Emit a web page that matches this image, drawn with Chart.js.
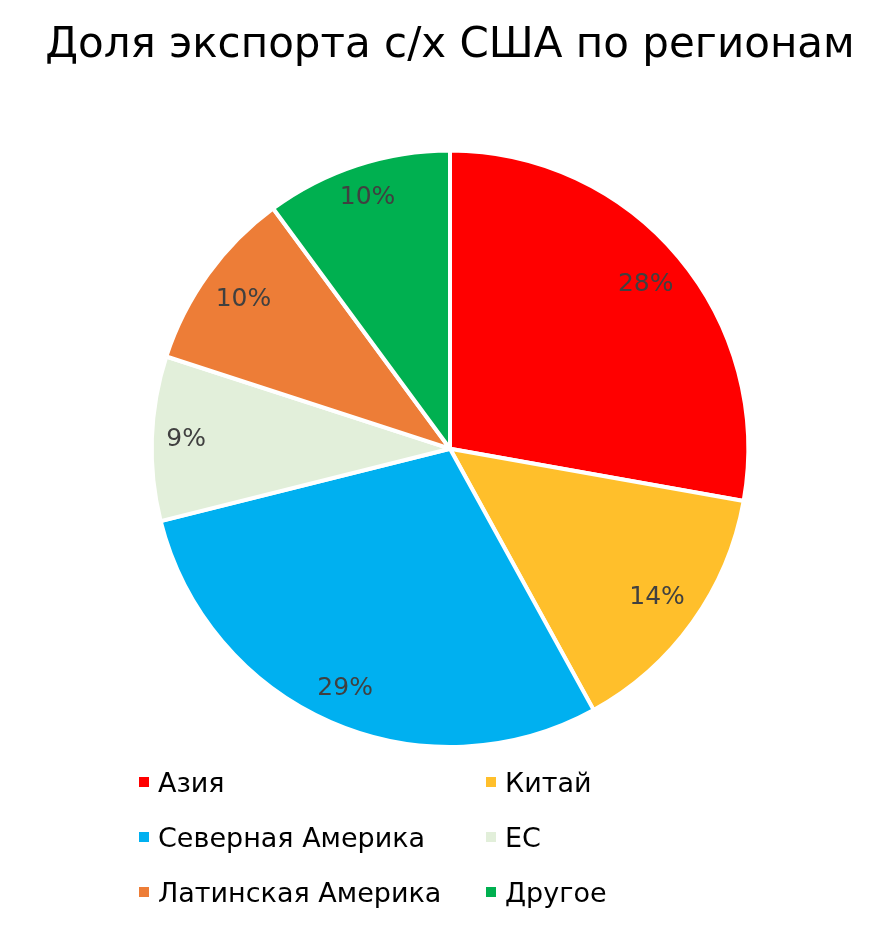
<!DOCTYPE html>
<html>
<head>
<meta charset="utf-8">
<script src="https://cdn.jsdelivr.net/npm/chart.js@4.4.1/dist/chart.umd.min.js"></script>
<style>
  html, body { margin: 0; padding: 0; background: #fff; }
  #wrap { position: relative; width: 884px; height: 928px; }
  #legend { position: absolute; left: 0; top: 0; width: 884px; height: 928px; pointer-events: none;
            font-family: "DejaVu Sans", sans-serif; font-size: 27px; color: #000; }
  .item { position: absolute; display: flex; align-items: center; white-space: nowrap; }
  .box { width: 10px; height: 10px; margin-right: 9px; }
</style>
</head>
<body>
<div id="wrap">
  <canvas id="c" width="884" height="928"></canvas>
  <div id="legend"></div>
</div>
<script>
const titleText = "Доля экспорта с/х США по регионам";
const categories = ["Азия", "Китай", "Северная Америка", "ЕС", "Латинская Америка", "Другое"];
const shares = [27.8, 14.2, 29.1, 8.9, 9.9, 10.1];
const colors = ["#FF0000", "#FFBF2B", "#00B0F0", "#E2EFDA", "#ED7D37", "#00B050"];

const FONT = '"DejaVu Sans", sans-serif';

const labelPlugin = {
  id: 'sliceLabels',
  afterDatasetsDraw(chart) {
    const ctx = chart.ctx;
    const meta = chart.getDatasetMeta(0);
    const total = shares.reduce((a, b) => a + b, 0);
    ctx.save();
    ctx.font = '25px ' + FONT;
    ctx.fillStyle = '#404040';
    ctx.textAlign = 'center';
    ctx.textBaseline = 'middle';
    meta.data.forEach((arc, i) => {
      const p = arc.getProps(['x', 'y', 'startAngle', 'endAngle', 'outerRadius'], true);
      const mid = (p.startAngle + p.endAngle) / 2;
      const txt = Math.round(shares[i] / total * 100) + '%';
      const w = ctx.measureText(txt).width;
      // place like "inside end": box sits just inside the rim
      const ext = Math.abs(Math.cos(mid)) * w / 2 + Math.abs(Math.sin(mid)) * 12;
      const r = p.outerRadius - 14 - ext;
      ctx.fillText(txt, p.x + Math.cos(mid) * r, p.y + Math.sin(mid) * r);
    });
    ctx.restore();
  }
};

const chart = new Chart(document.getElementById('c'), {
  type: 'pie',
  data: {
    labels: categories,
    datasets: [{
      data: shares,
      backgroundColor: colors,
      borderColor: '#ffffff',
      borderWidth: 4,
      hoverOffset: 0
    }]
  },
  options: {
    responsive: false,
    animation: false,
    layout: { padding: { left: 16, right: 0, top: 0, bottom: 179 } },
    plugins: {
      legend: { display: false },
      tooltip: { enabled: false },
      title: {
        display: true,
        text: titleText,
        color: '#000',
        font: { family: FONT, size: 42, weight: 'normal' },
        padding: { top: 21, bottom: 77 }
      }
    }
  },
  plugins: [labelPlugin]
});

// legend built from chart data
const legendPos = [
  [139, 782], [486, 782],
  [139, 837], [486, 837],
  [139, 892], [486, 892]
];
const lg = document.getElementById('legend');
chart.data.labels.forEach((lab, i) => {
  const d = document.createElement('div');
  d.className = 'item';
  d.style.left = legendPos[i][0] + 'px';
  d.style.top = (legendPos[i][1] - 17) + 'px';
  d.style.height = '34px';
  const b = document.createElement('span');
  b.className = 'box';
  b.style.background = chart.data.datasets[0].backgroundColor[i];
  const t = document.createElement('span');
  t.textContent = lab;
  d.appendChild(b); d.appendChild(t);
  lg.appendChild(d);
});
</script>
</body>
</html>
